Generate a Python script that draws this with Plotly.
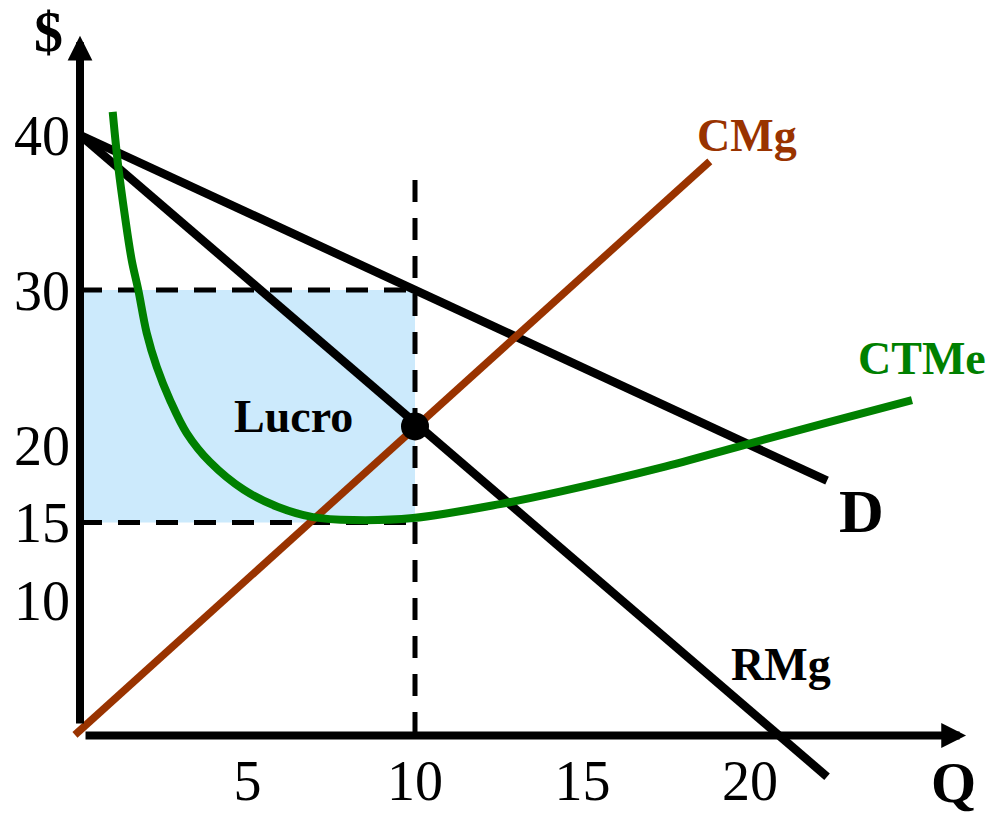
import plotly.graph_objects as go

# ---- curves (quantity Q, price $) ----
# demand
d_q = [0, 22.3]
d_p = [40, 17.7]
# marginal revenue
rmg_q = [0, 22.3]
rmg_p = [40, -1.4]
# marginal cost
cmg_q = [-0.15, 18.8]
cmg_p = [1.3, 38.3]
# average total cost
ctme_q = [0.976, 1.143, 1.343, 1.543, 1.740, 1.991, 2.290, 2.687, 3.185, 3.880,
          4.896, 5.910, 6.955, 8.149, 9.940, 12.537, 14.328, 17.313, 19.791,
          22.299, 24.836]
ctme_p = [41.50, 37.95, 34.73, 31.94, 30.00, 27.23, 25.05, 22.90, 20.77, 18.90,
          17.10, 16.00, 15.35, 15.16, 15.29, 16.19, 16.99, 18.52, 19.98,
          21.45, 22.90]

# profit-maximising point
q_star = 10
price_star = 30
atc_star = 15
mr_mc_star = 21.2
guide_top = 37.1

# axis ticks
x_ticks = [5, 10, 15, 20]
y_ticks = [10, 15, 20, 30, 40]

# axis geometry (data units)
axis_base_p = 1.26
q_axis_end = 26.45
p_axis_end = 46.4

BLACK = "#000000"
BROWN = "#993300"
GREEN = "#008000"
FILL = "#cceafc"
SERIF = "Liberation Serif, Times New Roman, serif"

fig = go.Figure()

# profit rectangle
fig.add_shape(type="rect", x0=0, x1=q_star, y0=atc_star, y1=price_star,
              fillcolor=FILL, line=dict(width=0), layer="below")

dash = "22px,16px"
fig.add_trace(go.Scatter(x=[q_star, q_star], y=[guide_top, axis_base_p], mode="lines",
                         line=dict(color=BLACK, width=5, dash=dash)))
fig.add_trace(go.Scatter(x=[0, q_star], y=[price_star, price_star], mode="lines",
                         line=dict(color=BLACK, width=5, dash=dash)))
fig.add_trace(go.Scatter(x=[0, q_star], y=[atc_star, atc_star], mode="lines",
                         line=dict(color=BLACK, width=5, dash=dash)))

fig.add_trace(go.Scatter(x=d_q, y=d_p, mode="lines", line=dict(color=BLACK, width=8.5)))
fig.add_trace(go.Scatter(x=rmg_q, y=rmg_p, mode="lines", line=dict(color=BLACK, width=8.5)))
fig.add_trace(go.Scatter(x=cmg_q, y=cmg_p, mode="lines", line=dict(color=BROWN, width=7.5)))
fig.add_trace(go.Scatter(x=ctme_q, y=ctme_p, mode="lines",
                         line=dict(color=GREEN, width=8, shape="spline", smoothing=1)))
fig.add_trace(go.Scatter(x=[q_star], y=[mr_mc_star], mode="markers",
                         marker=dict(color=BLACK, size=28)))

# axes with arrowheads
arrow = dict(showarrow=True, arrowhead=2, arrowwidth=8, arrowsize=0.62,
             arrowcolor=BLACK, axref="x", ayref="y", text="")
fig.add_annotation(x=q_axis_end, y=axis_base_p, ax=0.12, ay=axis_base_p, **arrow)
fig.add_annotation(x=0, y=p_axis_end, ax=0, ay=1.94, **arrow)

def label(text, x, y, size, color=BLACK):
    fig.add_annotation(x=x, y=y, text=f"<b>{text}</b>", showarrow=False,
                       font=dict(family=SERIF, size=size, color=color),
                       xanchor="center", yanchor="middle")

label("$", -0.95, 46.7, 58)
label("Q", 26.06, -1.8, 58)
label("CMg", 19.91, 40.0, 46, BROWN)
label("CTMe", 25.13, 25.55, 46, GREEN)
label("D", 23.34, 15.74, 62)
label("RMg", 20.93, 5.81, 46)
label("Lucro", 6.36, 21.87, 46)

fig.update_layout(
    width=992, height=816,
    margin=dict(l=0, r=0, t=0, b=0),
    paper_bgcolor="white", plot_bgcolor="white",
    showlegend=False,
    xaxis=dict(range=[-2.388, 27.224], showgrid=False, zeroline=False, showline=False,
               tickvals=x_ticks, ticks="", anchor="free", position=0.0987,
               ticklabelstandoff=8, automargin=False,
               tickfont=dict(family=SERIF, size=56, color=BLACK)),
    yaxis=dict(range=[-3.935, 48.71], showgrid=False, zeroline=False, showline=False,
               tickvals=y_ticks, ticks="", anchor="free", position=0.0806,
               ticklabelstandoff=10, automargin=False,
               tickfont=dict(family=SERIF, size=56, color=BLACK)),
)

fig.write_html("out.html")
